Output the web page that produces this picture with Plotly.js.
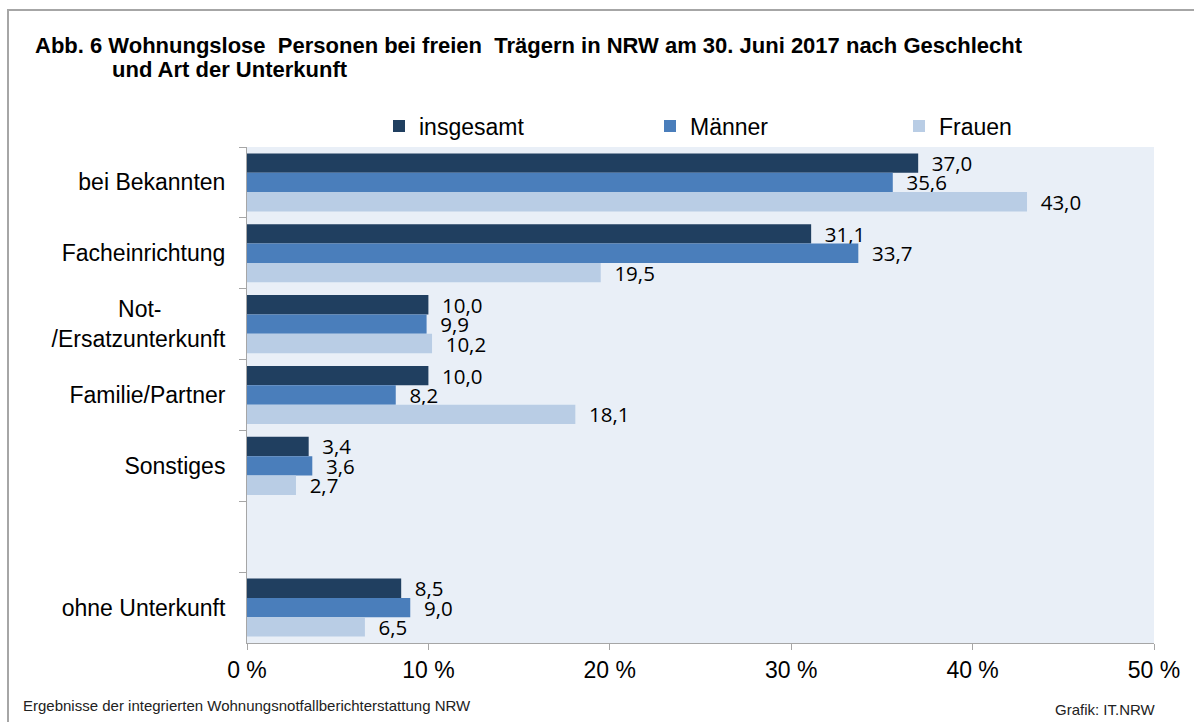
<!DOCTYPE html>
<html>
<head>
<meta charset="utf-8">
<script src="https://cdn.plot.ly/plotly-3.0.1.min.js"></script>
<style>
html,body{margin:0;padding:0;background:#fff;}
#chart{width:1194px;height:722px;}
</style>
</head>
<body>
<div id="chart"></div>
<script>
var categories = ["bei Bekannten", "Facheinrichtung", "Not-\u00a0\u00a0\u00a0\u00a0\u00a0\u00a0\u00a0\u00a0\u00a0\u00a0<br>/Ersatzunterkunft", "Familie/Partner", "Sonstiges", " ", "ohne Unterkunft"];
var seriesNames = ["insgesamt", "Männer", "Frauen"];
var insgesamt = [37.0, 31.1, 10.0, 10.0, 3.4, null, 8.5];
var maenner   = [35.6, 33.7, 9.9, 8.2, 3.6, null, 9.0];
var frauen    = [43.0, 19.5, 10.2, 18.1, 2.7, null, 6.5];
var xTickVals = [0, 10, 20, 30, 40, 50];
var xTickText = ["0 %", "10 %", "20 %", "30 %", "40 %", "50 %"];
var titleLine1 = "Abb. 6 Wohnungslose  Personen bei freien  Trägern in NRW am 30. Juni 2017 nach Geschlecht";
var titleLine2 = "und Art der Unterkunft";
var sourceText = "Ergebnisse der integrierten Wohnungsnotfallberichterstattung NRW";
var creditText = "Grafik: IT.NRW";

var colors = ["#203F60", "#4A7EBB", "#B9CDE5"];
var values = [insgesamt, maenner, frauen];
var legendIds = ["legend", "legend2", "legend3"];
var legendLeftPx = [379, 650, 899];

var traces = values.map(function(v, i){
  return {
    type: "bar",
    orientation: "h",
    name: seriesNames[i],
    legend: legendIds[i],
    y: categories,
    x: v,
    marker: {color: colors[i]},
    texttemplate: "  %{x:.1f}",
    textposition: "outside",
    constraintext: "none",
    cliponaxis: false,
    textfont: {family: "Open Sans, sans-serif", size: 20.5, color: "#000"},
    hoverinfo: "x+name"
  };
});

var layout = {
  width: 1194, height: 722,
  margin: {l: 247, r: 40, t: 147, b: 79, pad: 0},
  paper_bgcolor: "#ffffff",
  plot_bgcolor: "#E9EFF7",
  separators: ",.",
  barmode: "group",
  bargap: 0.18,
  bargroupgap: 0,
  font: {family: "Liberation Sans, Arial, sans-serif", color: "#000"},
  title: {
    text: "<b>" + titleLine1 + "</b>",
    xref: "container", yref: "container",
    x: 35/1194, xanchor: "left",
    y: 1 - 45/722, yanchor: "middle",
    font: {family: "Liberation Sans, Arial, sans-serif", size: 22, color: "#000"}
  },
  showlegend: true,
  xaxis: {
    range: [0, 50],
    tickvals: xTickVals,
    ticktext: xTickText,
    showgrid: false,
    zeroline: false,
    showline: true,
    linecolor: "#A6A6A6",
    linewidth: 1,
    ticks: "outside",
    ticklen: 6,
    tickcolor: "#A6A6A6",
    tickfont: {family: "Liberation Sans, Arial, sans-serif", size: 23, color: "#000"},
    fixedrange: true
  },
  yaxis: {
    type: "category",
    categoryarray: categories,
    autorange: "reversed",
    showgrid: false,
    zeroline: false,
    showline: true,
    linecolor: "#A6A6A6",
    linewidth: 1,
    ticks: "outside",
    tickson: "boundaries",
    ticklen: 7,
    tickcolor: "#A6A6A6",
    ticklabelstandoff: 16,
    tickfont: {family: "Liberation Sans, Arial, sans-serif", size: 23, color: "#000"},
    fixedrange: true
  },
  annotations: [
    {text: "<b>" + titleLine2 + "</b>", xref: "paper", yref: "paper",
     x: (110-247)/907, y: (643-70)/496, xanchor: "left", yanchor: "middle", showarrow: false,
     font: {family: "Liberation Sans, Arial, sans-serif", size: 22, color: "#000"}},
    {text: sourceText, xref: "paper", yref: "paper",
     x: (21-247)/907, y: (643-705)/496, xanchor: "left", yanchor: "middle", showarrow: false,
     font: {family: "Liberation Sans, Arial, sans-serif", size: 15, color: "#222"}},
    {text: creditText, xref: "paper", yref: "paper",
     x: (1158-247)/907, y: (643-709)/496, xanchor: "right", yanchor: "middle", showarrow: false,
     font: {family: "Liberation Sans, Arial, sans-serif", size: 15, color: "#222"}}
  ],
  shapes: [
    {type: "rect", xref: "paper", yref: "paper",
     x0: (8-247)/907, x1: 1.6, y0: -0.6, y1: (643-10)/496,
     line: {color: "#A6A6A6", width: 2}, fillcolor: "rgba(0,0,0,0)", layer: "below"}
  ]
};

legendIds.forEach(function(id, i){
  layout[id] = {
    orientation: "h",
    x: (legendLeftPx[i]-247)/907, xanchor: "left",
    y: (643-126)/496, yanchor: "middle",
    font: {family: "Liberation Sans, Arial, sans-serif", size: 23, color: "#000"},
    bgcolor: "rgba(0,0,0,0)"
  };
});

Plotly.newPlot("chart", traces, layout, {displayModeBar: false, staticPlot: true});
</script>
</body>
</html>
